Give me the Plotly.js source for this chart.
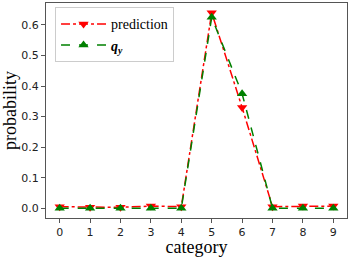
<!DOCTYPE html>
<html><head><meta charset="utf-8">
<script src="https://cdn.plot.ly/plotly-3.0.1.min.js"></script>
<style>html,body{margin:0;padding:0;background:#fff}</style>
</head><body><div id="chart" style="width:349px;height:257px"></div>
<script>
var categories = [0,1,2,3,4,5,6,7,8,9];
var prediction = [0.005,0.003,0.003,0.007,0.005,0.640,0.330,0.005,0.007,0.007];
var qy = [0,0,0,0,0,0.625,0.375,0,0,0];
var tickVals = [0,1,2,3,4,5,6,7,8,9];
var yTicks = [0,0.1,0.2,0.3,0.4,0.5,0.6];

var traces = [
 {x:categories,y:prediction,name:'prediction',mode:'lines+markers',
  line:{color:'#ff0000',width:1.5,dash:'dashdot'},
  marker:{symbol:'triangle-down',size:9,color:'#ff0000'}},
 {x:categories,y:qy,name:'<b><i>q<sub>y</sub></i></b>',mode:'lines+markers',
  line:{color:'#008000',width:1.5,dash:'dash'},
  marker:{symbol:'triangle-up',size:9,color:'#008000'}}
];
var layout = {
 width:349,height:257,margin:{l:46,r:2,t:3,b:39},
 paper_bgcolor:'#fff',plot_bgcolor:'#fff',showlegend:true,
 font:{family:'DejaVu Sans',size:11,color:'#222'},
 xaxis:{range:[-0.45,9.45],tickvals:tickVals,ticktext:tickVals.map(String),
  showgrid:false,zeroline:false,showline:true,mirror:true,linecolor:'#555',linewidth:1,
  ticks:'outside',ticklen:4,tickcolor:'#555',
  title:{text:'category',font:{family:'Liberation Serif',size:18,color:'#000'},standoff:6}},
 yaxis:{range:[-0.032,0.672],tickvals:yTicks,ticktext:yTicks.map(function(v){return v.toFixed(1);}),
  showgrid:false,zeroline:false,showline:true,mirror:true,linecolor:'#555',linewidth:1,
  ticks:'outside',ticklen:4,tickcolor:'#555',
  title:{text:'probability',font:{family:'Liberation Serif',size:18,color:'#000'},standoff:4}},
 legend:{x:0.03,y:0.98,xanchor:'left',yanchor:'top',bgcolor:'rgba(255,255,255,0.8)',
  bordercolor:'#ccc',borderwidth:1,font:{family:'Liberation Serif',size:14,color:'#000'},
  itemwidth:45,tracegroupgap:0}
};
Plotly.newPlot('chart',traces,layout,{staticPlot:true,displayModeBar:false});
</script></body></html>
